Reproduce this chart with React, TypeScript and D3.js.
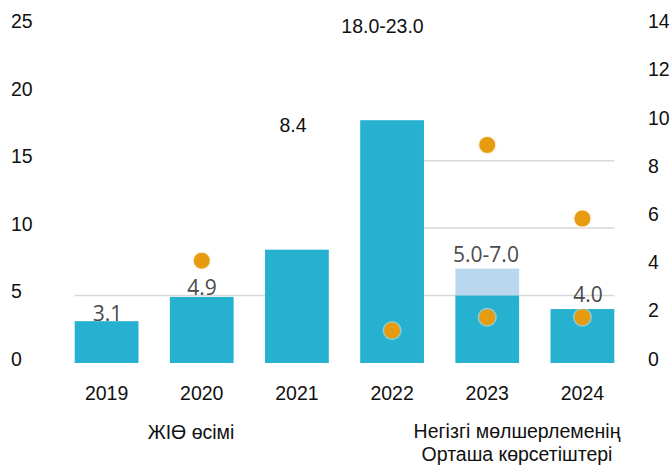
import React from "react";
import * as d3 from "d3";

const years = ["2019", "2020", "2021", "2022", "2023", "2024"];
const barValues = [3.1, 4.9, 8.4, 18.0, 5.0, 4.0];
const rangeTops: (number | null)[] = [null, null, null, null, 7.0, null];
const barLabels = ["3.1", "4.9", "8.4", "18.0-23.0", "5.0-7.0", "4.0"];
const leftTicks = [0, 5, 10, 15, 20, 25];
const rightTicks = [0, 2, 4, 6, 8, 10, 12, 14];
const rateAvg = [
  { year: "2020", value: 4.25 },
  { year: "2022", value: 1.35 },
  { year: "2023", value: 1.9 },
  { year: "2024", value: 1.9 },
];
const rateAvg2 = [
  { year: "2023", value: 9.05 },
  { year: "2024", value: 6.0 },
];
const leftGrid = [5];
const rightGrid = [5, 10, 15];
const captionLeft = "ЖІӨ өсімі";
const captionRight = ["Негізгі мөлшерлеменің", "Орташа көрсетіштері"];

export default function App() {
  const W = 672, H = 466;
  const x = d3.scaleBand<string>().domain(years).range([59, 630]).paddingInner(0.33).paddingOuter(0.165);
  const yL = d3.scaleLinear().domain([0, 25]).range([363, 25.8]);
  const yR = d3.scaleLinear().domain([0, 14]).range([363, 25.8]);
  const bw = x.bandwidth();
  const barColor = "#26B1D1";
  const lightColor = "#B9D8EE";
  const dotColor = "#E69B10";
  const font = "'Liberation Sans', Arial, sans-serif";
  const grayFont = "'Open Sans', 'Noto Sans', sans-serif";
  const fs = 19.5;
  const labelPos: { [k: string]: [number, number, boolean] } = {
    "2019": [107.5, 313, true],
    "2020": [202, 287, true],
    "2021": [293, 125, false],
    "2022": [382.5, 25.5, false],
    "2023": [486, 254, true],
    "2024": [588, 294, true],
  };
  const leftPanelEnd = (x("2021") as number);
  const rightPanelStart = (x("2022") as number) + bw;
  const rightPanelEnd = (x("2024") as number) + bw;
  return (
    <svg width={W} height={H} style={{ position: "absolute", left: 0, top: 0, background: "#fff" }}>
      <rect width={W} height={H} fill="#fff" />
      {leftGrid.map((g) => (
        <line key={"lg" + g} x1={x("2019") as number} x2={leftPanelEnd} y1={yL(g)} y2={yL(g)} stroke="#d9d9d9" strokeWidth={1.5} />
      ))}
      {rightGrid.map((g) => (
        <line key={"rg" + g} x1={rightPanelStart} x2={rightPanelEnd} y1={yL(g)} y2={yL(g)} stroke="#d9d9d9" strokeWidth={1.5} />
      ))}
      {years.map((yr, i) => {
        const rt = rangeTops[i];
        return (
          <g key={yr}>
            {rt !== null && (
              <rect x={x(yr)} y={yL(rt)} width={bw} height={yL(barValues[i]) - yL(rt)} fill={lightColor} />
            )}
            <rect x={x(yr)} y={yL(barValues[i])} width={bw} height={yL(0) - yL(barValues[i])} fill={barColor} />
          </g>
        );
      })}
      {[...rateAvg, ...rateAvg2].map((d, i) => (
        <g key={"d" + i}>
          <circle cx={(x(d.year) as number) + bw / 2} cy={yR(d.value)} r={9.5} fill="#FBE9C8" opacity={0.5} />
          <circle cx={(x(d.year) as number) + bw / 2} cy={yR(d.value)} r={8} fill={dotColor} />
        </g>
      ))}
      {years.map((yr, i) => {
        const [lx, ly, gray] = labelPos[yr];
        return (
          <text key={"l" + yr} x={lx} y={ly} textAnchor="middle" dominantBaseline="central"
            fontFamily={gray ? grayFont : font} fontSize={gray ? 21 : fs} fill={gray ? "#4a4a4a" : "#111"}>
            {barLabels[i]}
          </text>
        );
      })}
      {leftTicks.map((t) => (
        <text key={"lt" + t} x={11} y={yL(t) - 4.5} dominantBaseline="central" fontFamily={font} fontSize={fs} fill="#111">{t}</text>
      ))}
      {rightTicks.map((t) => (
        <text key={"rt" + t} x={648} y={yR(t) - 4.5} dominantBaseline="central" fontFamily={font} fontSize={fs} fill="#111">{t}</text>
      ))}
      {years.map((yr) => (
        <text key={"x" + yr} x={(x(yr) as number) + bw / 2} y={393} textAnchor="middle" dominantBaseline="central" fontFamily={font} fontSize={fs} fill="#111">{yr}</text>
      ))}
      <text x={191} y={432} textAnchor="middle" dominantBaseline="central" fontFamily={font} fontSize={fs} fill="#111">{captionLeft}</text>
      {captionRight.map((c, i) => (
        <text key={"c" + i} x={517} y={431 + i * 23} textAnchor="middle" dominantBaseline="central" fontFamily={font} fontSize={fs} fill="#111">{c}</text>
      ))}
    </svg>
  );
}
